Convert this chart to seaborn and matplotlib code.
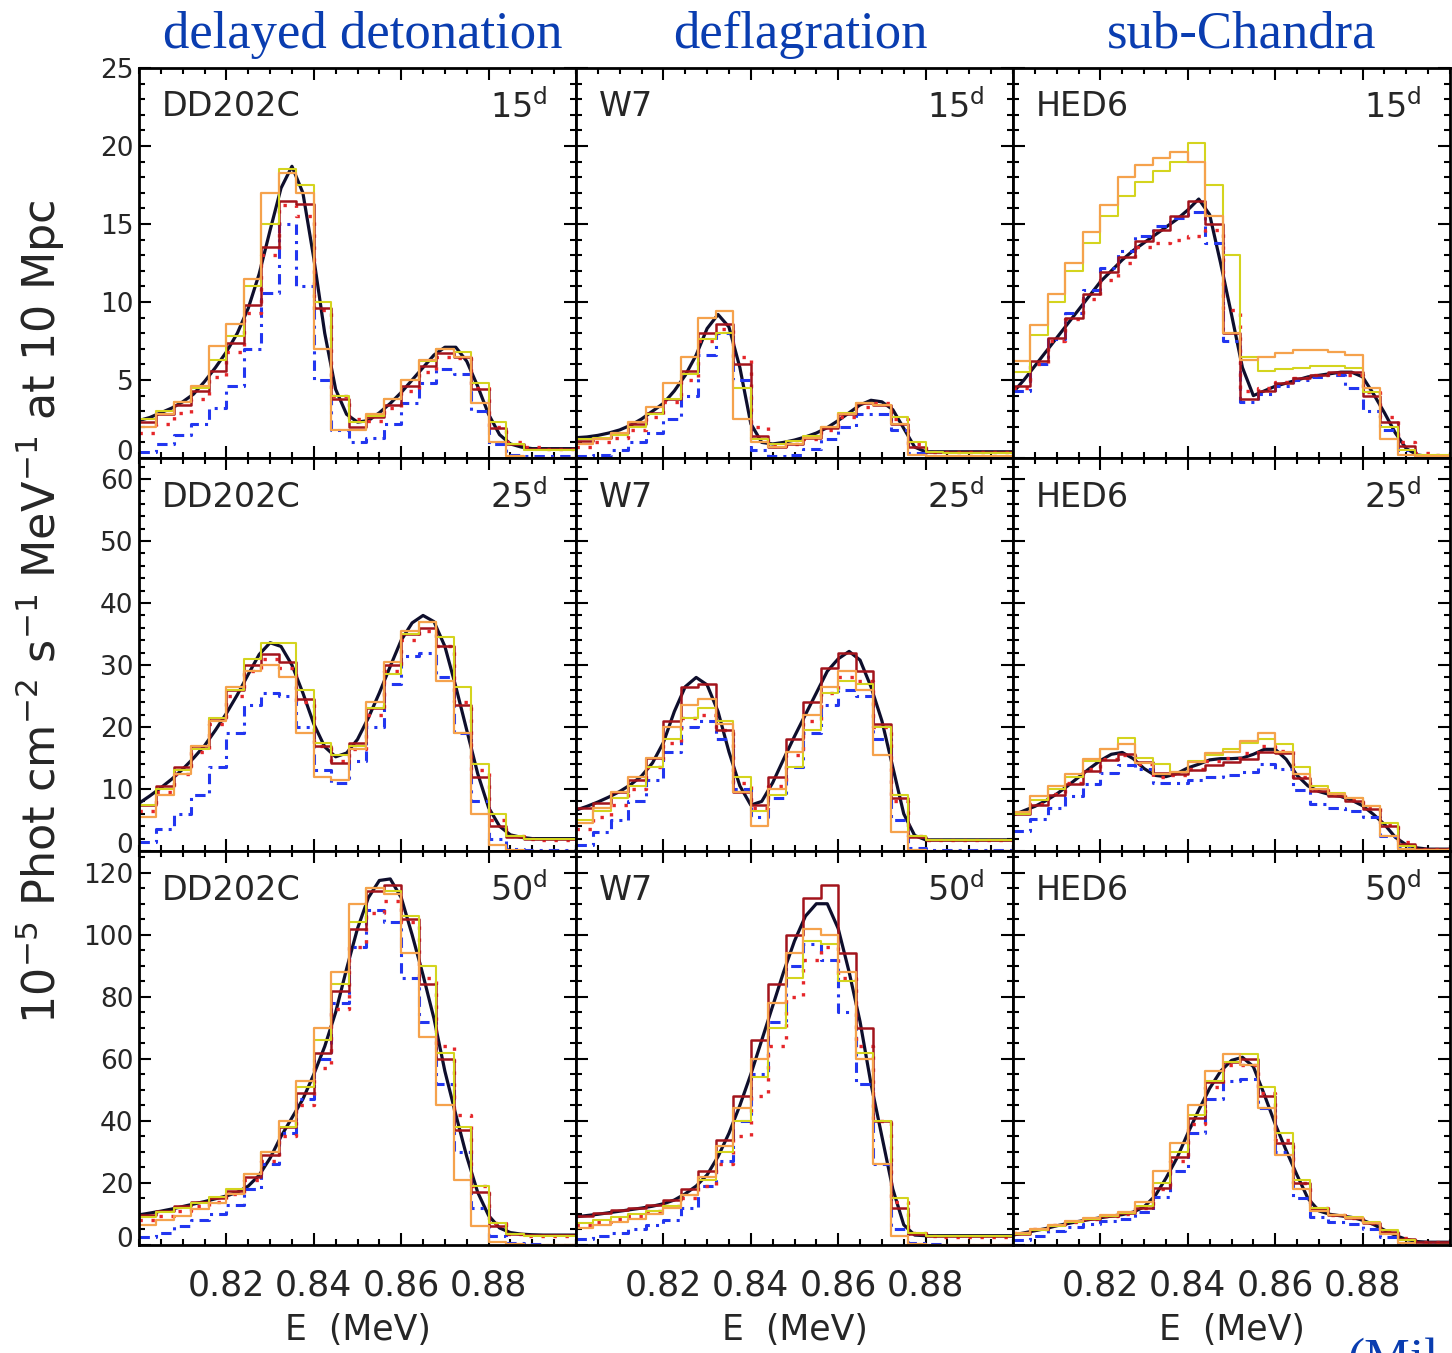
import numpy as np
import matplotlib
matplotlib.use("Agg")
import matplotlib.pyplot as plt
import seaborn as sns
from matplotlib.ticker import MultipleLocator, FixedLocator, FormatStrFormatter
from matplotlib.transforms import ScaledTranslation

# ---------------------------------------------------------------------------
# Energy grids (MeV): smooth model curve and histogram bin edges
# ---------------------------------------------------------------------------
e_model = np.round(0.800 + 0.0025 * np.arange(41), 4)
e_edges = np.round(0.800 + 0.004 * np.arange(26), 4)

models = ["DD202C", "W7", "HED6"]
epochs = ["15", "25", "50"]
column_titles = ["delayed detonation", "deflagration", "sub-Chandra"]
y_max = [25, 63.4, 127]
y_major = [5, 10, 20]
y_minor = [1, 2, 5]
x_tick_values = [0.82, 0.84, 0.86, 0.88]

# ---------------------------------------------------------------------------
# Line fluxes, 10^-5 phot cm^-2 s^-1 MeV^-1 at 10 Mpc
# ---------------------------------------------------------------------------
# DD202C, 15 d
dd15_model = [2.4, 2.6, 2.9, 3.2, 3.6, 4.1, 4.9, 5.8, 6.8, 8.0, 9.6, 11.8, 14.6, 17.3, 18.7, 17.0,
              12.8, 8.0, 4.4, 2.8, 2.3, 2.4, 2.9, 3.5, 4.2, 5.0, 5.8, 6.6, 7.1, 7.1, 6.2, 4.6,
              2.8, 1.5, 0.9, 0.7, 0.6, 0.6, 0.6, 0.6, 0.6]
dd15_blue = [0.4, 0.9, 1.5, 2.2, 3.2, 4.6, 7.0, 10.6, 15.0, 11.0, 5.0, 1.8, 1.0, 1.3, 2.2, 3.5,
             4.8, 5.7, 5.4, 3.0, 0.9, 0.2, 0.1, 0.1, 0.1]
dd15_red = [1.6, 2.2, 2.9, 3.8, 5.2, 6.8, 9.3, 13.0, 16.2, 15.5, 9.5, 4.0, 2.5, 2.4, 3.2, 4.3,
            5.5, 6.5, 6.4, 4.5, 2.0, 1.0, 0.7, 0.6, 0.6]
dd15_darkred = [2.3, 2.8, 3.4, 4.3, 5.6, 7.4, 9.8, 13.5, 16.5, 16.3, 9.6, 3.8, 2.0, 2.6, 3.4, 4.6,
                5.9, 6.7, 6.5, 4.4, 1.9, 0.9, 0.6, 0.6, 0.6]
dd15_orange = [2.0, 2.8, 3.6, 4.6, 7.2, 8.6, 11.5, 17.0, 18.3, 17.0, 7.0, 1.8, 1.8, 2.8, 3.8, 5.0,
               6.3, 7.0, 6.5, 3.5, 1.0, 0.1, 0.0, 0.0, 0.0]
dd15_yellow = [2.5, 3.0, 3.6, 4.5, 6.3, 7.8, 11.0, 15.0, 18.5, 17.5, 10.0, 4.0, 2.3, 2.7, 3.8, 5.0,
               6.2, 7.0, 6.8, 4.8, 2.3, 0.9, 0.5, 0.5, 0.5]

# W7, 15 d
w715_model = [1.3, 1.35, 1.45, 1.6, 1.8, 2.1, 2.5, 3.0, 3.5, 4.3, 5.3, 6.6, 8.3, 9.2, 8.4, 5.8,
              2.2, 1.0, 0.9, 1.0, 1.15, 1.35, 1.6, 1.95, 2.4, 2.9, 3.4, 3.7, 3.6, 3.1, 1.9, 0.7,
              0.4, 0.4, 0.4, 0.4, 0.4, 0.4, 0.4, 0.4, 0.4]
w715_blue = [0.1, 0.2, 0.5, 1.0, 1.6, 2.5, 4.0, 6.6, 8.0, 5.0, 0.5, 0.1, 0.2, 0.6, 1.2, 2.0,
             2.8, 2.8, 1.8, 0.3, 0.0, 0.0, 0.0, 0.0, 0.0]
w715_red = [0.7, 1.0, 1.3, 1.8, 2.6, 3.6, 5.0, 7.5, 8.3, 6.5, 2.0, 0.8, 0.9, 1.2, 1.8, 2.6,
            3.3, 3.5, 2.5, 0.9, 0.4, 0.4, 0.4, 0.4, 0.4]
w715_darkred = [1.1, 1.3, 1.6, 2.2, 2.9, 3.8, 5.6, 8.0, 8.6, 6.0, 1.4, 0.7, 0.9, 1.3, 1.9, 2.8,
                3.5, 3.4, 2.2, 0.7, 0.4, 0.4, 0.4, 0.4, 0.4]
w715_orange = [0.9, 1.2, 1.6, 2.3, 3.3, 4.8, 6.5, 9.0, 9.4, 2.5, 1.0, 0.7, 0.9, 1.3, 2.0, 2.8,
               3.5, 3.4, 2.2, 0.2, 0.1, 0.1, 0.1, 0.1, 0.1]
w715_yellow = [1.2, 1.3, 1.5, 2.0, 2.8, 3.8, 5.4, 7.6, 8.0, 4.5, 1.2, 0.9, 1.1, 1.4, 2.0, 2.9,
               3.5, 3.4, 2.6, 1.0, 0.4, 0.3, 0.3, 0.3, 0.3]

# HED6, 15 d
hed15_model = [4.2, 5.0, 5.9, 6.8, 7.7, 8.6, 9.5, 10.4, 11.3, 12.0, 12.7, 13.3, 13.8, 14.3, 14.8,
               15.3, 15.9, 16.6, 15.6, 12.5, 9.2, 5.8, 4.0, 4.3, 4.6, 4.8, 5.0, 5.2, 5.3, 5.4,
               5.5, 5.5, 5.2, 4.1, 2.9, 1.6, 0.6, 0.2, 0.1, 0.1, 0.1]
hed15_blue = [4.3, 6.0, 7.6, 9.3, 10.8, 12.2, 13.3, 14.2, 14.9, 15.4, 15.8, 13.8, 7.5, 3.6, 4.1,
              4.6, 5.0, 5.2, 5.3, 4.5, 3.0, 1.8, 0.5, 0.1, 0.1]
hed15_red = [4.5, 6.0, 7.5, 8.9, 10.2, 11.4, 12.5, 13.5, 13.8, 14.0, 14.2, 14.6, 9.5, 4.3, 4.5,
             4.9, 5.1, 5.3, 5.4, 5.3, 4.2, 2.6, 1.0, 0.3, 0.2]
hed15_darkred = [4.6, 6.2, 7.7, 9.0, 10.5, 11.9, 12.9, 13.9, 14.6, 15.5, 16.5, 15.0, 8.0, 3.8,
                 4.3, 4.8, 5.1, 5.3, 5.5, 5.5, 4.0, 2.3, 0.8, 0.2, 0.2]
hed15_orange = [6.2, 8.5, 10.5, 12.5, 14.5, 16.2, 18.0, 18.8, 19.2, 19.6, 19.0, 15.5, 8.0, 6.3,
                6.5, 6.7, 6.9, 6.9, 6.8, 6.6, 4.5, 1.2, 0.2, 0.1, 0.1]
hed15_yellow = [5.5, 7.9, 10.0, 12.0, 13.8, 15.5, 16.8, 17.7, 18.4, 19.0, 20.2, 17.5, 13.0, 6.5,
                5.6, 5.7, 5.8, 5.9, 5.9, 5.8, 4.2, 2.0, 0.5, 0.2, 0.2]

# DD202C, 25 d
dd25_model = [7.7, 8.9, 10.2, 11.6, 13.2, 15.0, 17.0, 19.5, 22.2, 25.2, 28.5, 31.7, 33.6, 33.0,
              30.0, 25.5, 20.5, 16.8, 15.2, 15.8, 18.0, 21.5, 25.5, 29.8, 34.0, 36.8, 38.0, 37.0,
              33.0, 26.5, 19.5, 12.5, 7.0, 4.0, 2.6, 2.2, 2.0, 2.0, 2.0, 2.0, 2.0]
dd25_blue = [1.5, 3.5, 6.0, 9.0, 13.5, 19.0, 23.5, 25.5, 25.0, 20.0, 13.0, 11.0, 14.5, 20.0, 27.0,
             31.5, 32.0, 28.0, 19.0, 8.0, 2.0, 0.3, 0.1, 0.1, 0.1]
dd25_red = [6.5, 9.5, 12.5, 16.0, 20.5, 25.0, 29.0, 31.0, 29.5, 24.0, 17.0, 14.5, 16.5, 22.0,
            29.0, 34.0, 35.5, 33.0, 24.0, 13.0, 5.0, 2.5, 2.0, 1.8, 1.8]
dd25_darkred = [7.5, 10.5, 13.5, 17.0, 21.5, 26.0, 30.0, 31.8, 30.5, 24.5, 17.0, 14.2, 17.5, 23.0,
                30.0, 35.0, 36.0, 33.0, 23.5, 12.0, 4.0, 2.2, 2.0, 2.0, 2.0]
dd25_orange = [5.5, 9.0, 12.5, 17.0, 21.0, 26.5, 29.0, 30.0, 28.0, 19.0, 12.0, 11.5, 16.5, 24.0,
               30.5, 35.5, 37.0, 27.5, 19.0, 6.0, 1.0, 0.1, 0.0, 0.0, 0.0]
dd25_yellow = [7.5, 10.0, 13.0, 16.5, 21.5, 26.0, 31.0, 33.5, 33.5, 26.0, 17.5, 15.5, 17.0, 23.0,
               28.5, 35.0, 37.0, 34.5, 26.5, 14.0, 6.0, 2.5, 2.0, 2.0, 2.0]

# W7, 25 d
w725_model = [6.6, 7.2, 7.9, 8.7, 9.6, 10.7, 12.1, 14.2, 17.5, 22.5, 26.5, 28.0, 26.8, 22.5, 16.0,
              10.5, 7.4, 8.0, 11.0, 14.8, 18.5, 22.0, 25.5, 29.0, 31.0, 32.2, 30.8, 26.5, 21.0,
              13.5, 6.0, 2.5, 1.8, 1.8, 1.8, 1.8, 1.8, 1.8, 1.8, 1.8, 1.8]
w725_blue = [1.0, 3.0, 5.0, 8.0, 11.5, 16.0, 20.0, 21.0, 18.0, 10.0, 5.5, 8.5, 13.5, 19.0, 23.5,
             26.0, 25.0, 18.0, 5.0, 0.5, 0.1, 0.1, 0.1, 0.1, 0.1]
w725_red = [3.5, 5.5, 7.5, 10.0, 13.5, 17.5, 21.5, 22.0, 19.5, 11.0, 7.0, 10.5, 15.5, 21.0, 25.5,
            28.0, 27.5, 20.0, 8.0, 2.5, 1.8, 1.8, 1.8, 1.8, 1.8]
w725_darkred = [6.9, 7.8, 9.5, 11.5, 15.0, 21.0, 26.5, 27.0, 19.5, 9.5, 7.5, 12.0, 18.0, 24.0,
                29.5, 32.0, 29.0, 20.5, 8.5, 2.2, 1.8, 1.8, 1.8, 1.8, 1.8]
w725_orange = [4.5, 7.0, 9.5, 12.0, 15.0, 20.0, 23.5, 24.5, 20.5, 9.5, 4.0, 10.0, 16.0, 22.0,
               26.5, 29.0, 26.0, 15.5, 3.0, 0.1, 0.0, 0.0, 0.0, 0.0, 0.0]
w725_yellow = [5.0, 6.5, 8.5, 10.5, 13.5, 18.0, 21.5, 23.0, 21.0, 12.0, 6.5, 9.0, 13.5, 19.5,
               25.5, 27.5, 27.0, 20.0, 9.0, 2.5, 1.8, 1.8, 1.8, 1.8, 1.8]

# HED6, 25 d
hed25_model = [5.8, 6.5, 7.2, 8.1, 9.2, 10.5, 11.9, 13.3, 14.6, 15.6, 15.9, 14.9, 13.3, 12.2, 12.0,
               12.5, 13.4, 14.0, 14.7, 14.9, 14.9, 15.0, 15.6, 16.4, 16.4, 14.8, 12.2, 10.5, 9.6,
               9.1, 8.8, 8.2, 7.3, 5.9, 4.3, 2.2, 1.0, 0.5, 0.3, 0.3, 0.3]
hed25_blue = [3.3, 5.2, 7.0, 8.8, 10.8, 12.6, 13.8, 13.3, 11.0, 11.0, 11.5, 12.0, 12.3, 12.7,
              14.0, 13.2, 9.8, 7.6, 7.0, 6.5, 5.5, 2.5, 0.5, 0.1, 0.1]
hed25_red = [6.2, 7.6, 9.2, 11.0, 13.2, 14.8, 15.5, 14.0, 12.0, 12.2, 13.3, 14.5, 15.0, 15.8,
             17.0, 16.2, 12.0, 9.8, 9.0, 8.2, 7.0, 4.3, 1.4, 0.4, 0.3]
hed25_darkred = [6.0, 7.4, 9.0, 10.8, 12.9, 14.6, 15.6, 14.3, 12.6, 12.4, 13.1, 13.9, 14.4, 14.8,
                 16.0, 15.8, 11.8, 9.6, 8.9, 8.1, 6.8, 4.0, 1.2, 0.3, 0.3]
hed25_orange = [6.3, 8.8, 10.5, 12.5, 14.8, 16.5, 17.3, 14.2, 12.5, 12.7, 14.3, 15.8, 16.0, 17.7,
                19.0, 16.0, 12.5, 10.0, 9.2, 8.5, 7.2, 2.5, 0.3, 0.1, 0.1]
hed25_yellow = [6.0, 8.2, 10.0, 12.0, 14.5, 16.5, 18.3, 15.0, 14.0, 12.8, 14.5, 15.5, 16.5, 17.5,
                18.0, 17.2, 13.5, 10.5, 9.3, 8.6, 7.2, 4.5, 0.8, 0.1, 0.1]

# DD202C, 50 d
dd50_model = [9.7, 10.3, 10.9, 11.6, 12.4, 13.2, 14.0, 14.9, 15.8, 17.0, 19.0, 22.5, 28.0, 35.0,
              41.0, 47.0, 55.0, 64.0, 75.0, 89.0, 102.0, 112.0, 117.5, 118.0, 112.0, 100.0, 87.0,
              73.0, 56.0, 42.0, 28.5, 17.0, 9.5, 5.5, 4.0, 3.5, 3.3, 3.2, 3.2, 3.2, 3.2]
dd50_blue = [2.5, 4.0, 6.0, 8.0, 10.0, 13.0, 18.0, 26.0, 36.0, 47.0, 60.0, 78.0, 96.0, 108.0,
             104.0, 86.0, 72.0, 52.0, 30.0, 12.0, 3.0, 0.5, 0.2, 0.1, 0.1]
dd50_red = [8.0, 9.5, 11.0, 12.5, 14.0, 16.5, 21.0, 27.0, 35.0, 45.0, 57.0, 76.0, 96.0, 107.0,
            111.0, 104.0, 86.0, 64.0, 42.0, 19.0, 7.0, 3.5, 3.0, 3.0, 3.0]
dd50_darkred = [9.8, 11.0, 12.5, 13.8, 15.3, 17.5, 22.0, 29.0, 38.0, 49.0, 62.0, 82.0, 102.0,
                114.0, 116.0, 105.0, 84.0, 60.0, 37.0, 17.0, 6.0, 3.6, 3.2, 3.2, 3.2]
dd50_orange = [6.5, 8.0, 9.5, 11.5, 13.5, 16.5, 23.0, 30.0, 40.0, 53.0, 70.0, 88.0, 110.0, 115.0,
               113.0, 94.0, 67.0, 45.0, 21.0, 6.0, 1.0, 0.2, 0.0, 0.0, 0.0]
dd50_yellow = [9.0, 10.5, 12.0, 13.5, 15.5, 18.0, 23.0, 30.0, 38.0, 51.0, 66.0, 84.0, 104.0,
               115.0, 114.0, 106.0, 90.0, 62.0, 38.0, 19.0, 7.0, 3.5, 3.0, 3.0, 3.0]

# W7, 50 d
w750_model = [9.1, 9.5, 9.9, 10.4, 10.9, 11.4, 11.9, 12.5, 13.3, 14.5, 16.5, 19.0, 22.6, 28.5,
              36.0, 45.0, 55.0, 66.0, 77.0, 88.0, 98.0, 106.0, 110.0, 110.0, 102.0, 88.0, 72.0,
              52.0, 35.0, 18.0, 6.5, 3.2, 3.0, 3.0, 3.0, 3.0, 3.0, 3.0, 3.0, 3.0, 3.0]
w750_blue = [2.0, 3.0, 4.0, 5.0, 6.5, 8.0, 12.0, 19.0, 27.0, 40.0, 55.0, 72.0, 90.0, 97.0, 92.0,
             75.0, 52.0, 26.0, 5.0, 0.5, 0.2, 0.1, 0.1, 0.1, 0.1]
w750_red = [6.5, 7.5, 8.5, 9.5, 11.0, 12.5, 15.0, 19.0, 26.0, 35.0, 48.0, 64.0, 80.0, 92.0, 96.0,
            86.0, 64.0, 40.0, 14.0, 4.0, 3.0, 2.5, 2.5, 2.5, 2.5]
w750_darkred = [9.5, 10.3, 11.2, 12.0, 13.0, 14.5, 18.0, 24.0, 34.0, 48.0, 66.0, 84.0, 100.0,
                112.0, 116.0, 94.0, 70.0, 40.0, 12.0, 3.5, 3.0, 3.0, 3.0, 3.0, 3.0]
w750_orange = [5.5, 6.5, 7.5, 8.5, 10.0, 12.0, 16.0, 22.0, 32.0, 44.0, 60.0, 78.0, 94.0, 102.0,
               100.0, 88.0, 60.0, 26.0, 3.0, 0.2, 0.0, 0.0, 0.0, 0.0, 0.0]
w750_yellow = [7.0, 8.0, 9.0, 10.0, 11.0, 12.5, 16.0, 21.0, 30.0, 40.0, 54.0, 70.0, 86.0, 98.0,
               97.0, 85.0, 62.0, 40.0, 15.0, 4.0, 3.0, 3.0, 3.0, 3.0, 3.0]

# HED6, 50 d
hed50_model = [3.2, 3.9, 4.6, 5.3, 6.2, 6.9, 7.6, 8.2, 8.8, 9.3, 9.8, 10.6, 12.3, 15.8, 21.5,
               28.0, 36.0, 43.5, 50.5, 56.0, 59.5, 60.5, 57.5, 48.5, 39.0, 30.5, 22.5, 15.0, 11.0,
               9.9, 9.4, 8.9, 8.0, 6.6, 4.8, 3.1, 1.8, 1.1, 0.9, 0.9, 0.9]
hed50_blue = [1.5, 3.0, 4.5, 5.8, 6.8, 7.6, 8.5, 10.5, 15.5, 24.0, 36.0, 47.0, 53.0, 53.5, 44.0,
              30.0, 15.0, 9.0, 7.5, 6.8, 5.0, 2.5, 0.8, 0.2, 0.1]
hed50_red = [3.8, 5.2, 6.5, 7.5, 8.5, 9.2, 10.0, 12.0, 18.0, 27.0, 39.0, 51.0, 58.0, 58.0, 49.0,
             34.0, 20.0, 12.0, 9.8, 8.8, 7.2, 4.5, 2.2, 1.1, 0.9]
hed50_darkred = [3.6, 5.0, 6.4, 7.6, 8.5, 9.3, 10.2, 12.0, 18.5, 28.5, 41.0, 52.5, 59.0, 60.0,
                 48.0, 33.0, 20.0, 11.5, 9.6, 8.7, 7.0, 4.3, 2.0, 1.0, 0.9]
hed50_orange = [3.8, 5.2, 6.5, 7.6, 8.7, 9.6, 10.5, 14.0, 24.0, 33.0, 45.0, 56.0, 61.5, 58.0,
                44.0, 29.0, 18.0, 11.0, 9.6, 8.7, 7.0, 3.5, 0.5, 0.1, 0.1]
hed50_yellow = [3.6, 4.9, 6.2, 7.4, 8.4, 9.2, 10.2, 12.5, 20.0, 30.0, 42.0, 53.0, 59.0, 61.5,
                51.0, 36.0, 21.0, 12.0, 9.8, 8.9, 7.3, 4.8, 1.5, 0.1, 0.1]

# panel table: (row, column) -> (model curve, blue, red, dark red, yellow, orange)
spectra = {
    (0, 0): (dd15_model, dd15_blue, dd15_red, dd15_darkred, dd15_yellow, dd15_orange),
    (0, 1): (w715_model, w715_blue, w715_red, w715_darkred, w715_yellow, w715_orange),
    (0, 2): (hed15_model, hed15_blue, hed15_red, hed15_darkred, hed15_yellow, hed15_orange),
    (1, 0): (dd25_model, dd25_blue, dd25_red, dd25_darkred, dd25_yellow, dd25_orange),
    (1, 1): (w725_model, w725_blue, w725_red, w725_darkred, w725_yellow, w725_orange),
    (1, 2): (hed25_model, hed25_blue, hed25_red, hed25_darkred, hed25_yellow, hed25_orange),
    (2, 0): (dd50_model, dd50_blue, dd50_red, dd50_darkred, dd50_yellow, dd50_orange),
    (2, 1): (w750_model, w750_blue, w750_red, w750_darkred, w750_yellow, w750_orange),
    (2, 2): (hed50_model, hed50_blue, hed50_red, hed50_darkred, hed50_yellow, hed50_orange),
}

# histogram styles: colour, line style, width
step_styles = [
    ("#2236f0", (0, (3.4, 2.0, 1.0, 2.0)), 2.2),   # blue dash-dot
    ("#e5262a", (0, (1.0, 2.6)), 2.4),             # red dotted
    ("#a3141c", "-", 1.8),                         # dark red
    ("#d4d41e", "-", 1.5),                         # yellow-green
    ("#f5a24c", "-", 1.6),                         # orange
]

sns.set_style("ticks")
plt.rcParams["font.family"] = ["DejaVu Sans"]
plt.rcParams["mathtext.fontset"] = "dejavusans"

W, H = 1452, 1353
fig = plt.figure(figsize=(W / 100, H / 100), dpi=100)

col_left = [139, 576, 1013]
col_width = 437
row_top = [68, 458, 851]
row_bottom = [458, 851, 1245]


def draw_steps(ax, values, color, ls, lw):
    y = np.append(values, values[-1])
    sns.lineplot(x=e_edges, y=y, ax=ax, color=color, linestyle=ls, linewidth=lw,
                 drawstyle="steps-post", estimator=None, errorbar=None, sort=False,
                 legend=False)


axes = {}
for r in range(3):
    for c in range(3):
        rect = [col_left[c] / W, 1 - row_bottom[r] / H, col_width / W,
                (row_bottom[r] - row_top[r]) / H]
        ax = fig.add_axes(rect)
        axes[(r, c)] = ax
        model, *steps = spectra[(r, c)]
        sns.lineplot(x=e_model, y=model, ax=ax, color="#0e0e2c", linewidth=2.3,
                     estimator=None, errorbar=None, sort=False, legend=False)
        for vals, (col, ls, lw) in zip(steps, step_styles):
            draw_steps(ax, vals, col, ls, lw)

        ax.set_xlim(0.800, 0.900)
        ax.set_ylim(0, y_max[r])
        ax.xaxis.set_major_locator(FixedLocator(x_tick_values))
        ax.xaxis.set_minor_locator(MultipleLocator(0.005))
        ax.xaxis.set_major_formatter(FormatStrFormatter("%.2f"))
        ax.yaxis.set_major_locator(MultipleLocator(y_major[r]))
        ax.yaxis.set_minor_locator(MultipleLocator(y_minor[r]))
        ax.tick_params(which="both", direction="in", top=True, right=True,
                       color="black", width=1.5)
        ax.tick_params(which="major", length=8.5)
        ax.tick_params(which="minor", length=4.2)
        ax.tick_params(axis="x", labelsize=25, pad=17)
        ax.tick_params(axis="y", labelsize=19, pad=4)
        ax.tick_params(labelleft=(c == 0), labelbottom=(r == 2))
        ax.set_xlabel("")
        ax.set_ylabel("")
        for sp in ax.spines.values():
            sp.set_linewidth(2.0)
            sp.set_color("black")

        ax.text(0.053, 0.90, models[c], transform=ax.transAxes, fontsize=24,
                ha="left", va="center")
        ax.text(0.935, 0.90, epochs[r] + r"$^{\rm d}$", transform=ax.transAxes,
                fontsize=24, ha="right", va="center")

# column titles and axis labels
title_x = [363, 800, 1242]
for c in range(3):
    fig.text(title_x[c] / W, 1 - 35 / H, column_titles[c], fontsize=38,
             family="Liberation Serif", color="#0a3db0", ha="center", va="center")
    fig.text((col_left[c] + col_width / 2) / W, 1 - 1330 / H, "E  (MeV)",
             fontsize=25, ha="center", va="center")

fig.text(40 / W, 1 - 612 / H,
         r"10$^{-5}$ Phot cm$^{-2}$ s$^{-1}$ MeV$^{-1}$ at 10 Mpc",
         rotation=90, fontsize=32, ha="center", va="center")

fig.text(1348 / W, 1 - 1338 / H, "(Mil", fontsize=37, family="Liberation Serif",
         color="#0a3db0", ha="left", va="top")

# lift the zero labels clear of the panel below
fig.canvas.draw()
for r in range(3):
    ax = axes[(r, 0)]
    for lab in ax.get_yticklabels():
        if lab.get_text() == "0":
            lab.set_transform(lab.get_transform() +
                              ScaledTranslation(0, 8 / 100, fig.dpi_scale_trans))

fig.savefig("out.png", dpi=100)
